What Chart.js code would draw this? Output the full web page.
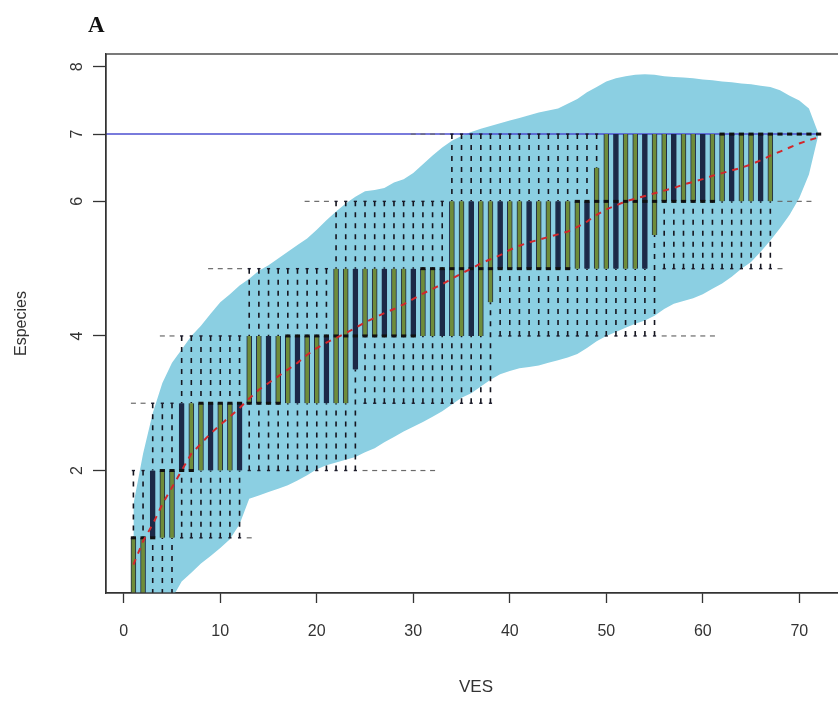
<!DOCTYPE html>
<html><head><meta charset="utf-8">
<script src="https://cdn.jsdelivr.net/npm/chart.js@4.4.0/dist/chart.umd.min.js"></script>
<style>
html,body{margin:0;padding:0;background:#fff;overflow:hidden;width:838px;height:706px;}
#wrap{position:relative;width:860px;height:706px;}
#panel{position:absolute;left:88px;top:12px;font:bold 23px "Liberation Serif",serif;color:#111;}
canvas{display:block;}
</style></head><body>
<div id="wrap"><canvas id="c" width="860" height="706"></canvas><div id="panel">A</div></div>
<script>
// ---- data ----
const sites = [1,2,3,4,5,6,7,8,9,10,11,12,13,14,15,16,17,18,19,20,21,22,23,24,
  25,26,27,28,29,30,31,32,33,34,35,36,37,38,39,40,41,42,43,44,45,46,47,48,
  49,50,51,52,53,54,55,56,57,58,59,60,61,62,63,64,65,66,67,68,69,70,71,72];
const meanRichness = [0.60,0.95,1.20,1.50,1.75,2.00,2.25,2.40,2.55,2.68,2.80,2.93,
  3.07,3.20,3.30,3.40,3.50,3.60,3.72,3.82,3.90,3.97,4.04,4.12,
  4.20,4.27,4.34,4.40,4.47,4.55,4.63,4.70,4.77,4.85,4.93,5.00,
  5.08,5.14,5.20,5.28,5.34,5.39,5.43,5.47,5.51,5.55,5.62,5.70,
  5.80,5.88,5.94,6.00,6.04,6.08,6.12,6.16,6.20,6.25,6.29,6.33,
  6.38,6.42,6.46,6.50,6.55,6.61,6.68,6.74,6.80,6.86,6.91,6.95];
const ciUpper = [1.50,2.25,2.85,3.30,3.60,3.80,4.00,4.15,4.33,4.50,4.62,4.75,
  4.85,4.97,5.05,5.15,5.25,5.35,5.45,5.58,5.72,5.85,5.97,6.07,
  6.15,6.17,6.20,6.28,6.33,6.42,6.55,6.68,6.80,6.90,6.97,7.03,
  7.08,7.12,7.16,7.20,7.24,7.28,7.32,7.35,7.38,7.45,7.52,7.62,
  7.70,7.78,7.83,7.86,7.88,7.89,7.88,7.86,7.85,7.84,7.83,7.81,
  7.80,7.78,7.77,7.75,7.74,7.72,7.70,7.65,7.57,7.50,7.38,7.00];
const ciLower = [-0.30,-0.30,-0.30,-0.20,0.10,0.35,0.48,0.62,0.73,0.85,0.98,1.20,
  1.58,1.63,1.68,1.73,1.78,1.85,1.93,2.02,2.08,2.12,2.16,2.20,
  2.27,2.33,2.42,2.50,2.58,2.65,2.72,2.80,2.88,2.98,3.08,3.15,
  3.25,3.35,3.43,3.48,3.52,3.54,3.56,3.60,3.64,3.68,3.73,3.82,
  3.92,4.00,4.06,4.12,4.18,4.23,4.30,4.40,4.48,4.52,4.56,4.62,
  4.70,4.78,4.88,5.00,5.10,5.25,5.42,5.60,5.80,6.05,6.40,7.00];
const boxQ1 = [0,0,1,1,1,2,2,2,2,2,2,2,
  3,3,3,3,3,3,3,3,3,3,3,3.5,
  4,4,4,4,4,4,4,4,4,4,4,4,
  4,4.5,5,5,5,5,5,5,5,5,5,5,
  5,5,5,5,5,5,5.5,6,6,6,6,6,
  6,6,6,6,6,6,6,7,7,7,7,7];
const boxQ3 = [1,1,2,2,2,3,3,3,3,3,3,3,
  4,4,4,4,4,4,4,4,4,5,5,5,
  5,5,5,5,5,5,5,5,5,6,6,6,
  6,6,6,6,6,6,6,6,6,6,6,6,
  6.5,7,7,7,7,7,7,7,7,7,7,7,
  7,7,7,7,7,7,7,7,7,7,7,7];
const boxMedian = [1,1,1,2,2,2,2,3,3,3,3,3,
  3,3,3,3,4,4,4,4,4,4,4,4,
  4,4,4,4,4,4,5,5,5,5,5,5,
  5,5,5,5,5,5,5,5,5,5,6,6,
  6,6,6,6,6,6,6,6,6,6,6,6,
  6,7,7,7,7,7,7,7,7,7,7,7];
const whiskerLow = [0,0,0,0,0,1,1,1,1,1,1,1,
  2,2,2,2,2,2,2,2,2,2,2,2,
  3,3,3,3,3,3,3,3,3,3,3,3,
  3,3,4,4,4,4,4,4,4,4,4,4,
  4,4,4,4,4,4,4,5,5,5,5,5,
  5,5,5,5,5,5,5,7,7,7,7,7];
const whiskerHigh = [2,2,3,3,3,4,4,4,4,4,4,4,
  5,5,5,5,5,5,5,5,5,6,6,6,
  6,6,6,6,6,6,6,6,6,7,7,7,
  7,7,7,7,7,7,7,7,7,7,7,7,
  7,7,7,7,7,7,7,7,7,7,7,7,
  7,7,7,7,7,7,7,7,7,7,7,7];
const outlierX = [1,2,4,5,9,10,11,12,13,19,20,21,25,26,27,28,29,30,31,32,30,31,32,33,56,57,58,59,60,61,68,68,69,70,71];
const outlierY = [3,3,4,4,5,5,5,5,1,6,6,6,2,2,2,2,2,2,2,2,7,7,7,7,4,4,4,4,4,4,5,6,6,6,6];
const totalSpecies = 7;
const xTicks = [0,10,20,30,40,50,60,70];
const yTicks = [2,4,6,7,8];

// ---- axis ranges ----
const X_MIN = -1.84, X_MAX = 74.84, Y_MIN = 0.18, Y_MAX = 8.19;

const series = ys => sites.map((x, i) => ({x, y: ys[i]}));
const whiskerPts = [];
const staplePts = [];
sites.forEach((x, i) => {
  if (whiskerHigh[i] > boxQ3[i]) {
    whiskerPts.push({x, y: whiskerHigh[i]}, {x, y: boxQ3[i]}, {x, y: null});
    staplePts.push({x, y: whiskerHigh[i]});
  }
  if (whiskerLow[i] < boxQ1[i]) {
    whiskerPts.push({x, y: whiskerLow[i]}, {x, y: boxQ1[i]}, {x, y: null});
    staplePts.push({x, y: whiskerLow[i]});
  }
});
const boxPts = sites.map((x, i) => ({x, y: [boxQ1[i], boxQ3[i]]}));
const outlierPts = outlierX.map((x, i) => ({x, y: outlierY[i]}));

const OLIVE = '#6f8c3a', DARK = '#1c2947';
const TXT = '#333';
const FONT = 'Liberation Sans, Arial, sans-serif';

const framePlugin = {
  id: 'frame',
  afterDraw(chart) {
    const {ctx, chartArea: a} = chart;
    ctx.save();
    ctx.strokeStyle = '#333';
    ctx.lineWidth = 1.3;
    ctx.strokeRect(a.left, a.top, a.right - a.left, a.bottom - a.top);
    ctx.restore();
  }
};

new Chart(document.getElementById('c'), {
  type: 'line',
  data: {
    datasets: [
      { type: 'line', data: series(meanRichness), borderColor: '#d3272b', borderWidth: 2,
        borderDash: [6, 6], pointRadius: 0, fill: false, order: 1, tension: 0 },
      { type: 'scatter', data: sites.map((x, i) => ({x, y: boxMedian[i]})), pointStyle: 'line',
        pointRadius: 2.6, pointBorderWidth: 3, borderColor: '#111', backgroundColor: '#111', order: 2 },
      { type: 'scatter', data: staplePts, pointStyle: 'line', pointRadius: 1.6, pointBorderWidth: 1.4,
        borderColor: '#1a1a2a', order: 3 },
      { type: 'bar', data: boxPts, barThickness: 5, grouped: false, order: 4,
        backgroundColor: c => (c.raw && c.raw.x % 3 === 0) ? DARK : OLIVE,
        borderColor: DARK, borderWidth: {left: 1, right: 1, top: 0, bottom: 0}, borderSkipped: false },
      { type: 'scatter', data: outlierPts, pointStyle: 'line', pointRadius: 2.5, pointBorderWidth: 1.2,
        borderColor: '#6a6a6a', order: 5 },
      { type: 'line', data: whiskerPts, borderColor: '#15151f', borderWidth: 1.6, borderDash: [5, 6],
        pointRadius: 0, spanGaps: false, fill: false, order: 6 },
      { type: 'line', data: [{x: X_MIN, y: totalSpecies}, {x: sites[sites.length - 1], y: totalSpecies}],
        borderColor: '#4d4fd0', borderWidth: 1.5, pointRadius: 0, fill: false, order: 7 },
      { type: 'line', data: series(ciUpper), borderWidth: 0, pointRadius: 0,
        backgroundColor: 'rgb(139,207,226)', fill: '+1', order: 8 },
      { type: 'line', data: series(ciLower), borderWidth: 0, pointRadius: 0, fill: false, order: 9 }
    ]
  },
  options: {
    responsive: false,
    animation: false,
    events: [],
    layout: { padding: { top: 54, right: 14, left: 0, bottom: 0 } },
    plugins: { legend: { display: false }, tooltip: { enabled: false } },
    scales: {
      x: {
        type: 'linear', min: X_MIN, max: X_MAX, offset: false,
        afterBuildTicks: s => { s.ticks = xTicks.map(v => ({value: v})); },
        afterFit: s => { s.height = 113; },
        grid: { display: true, offset: false, drawOnChartArea: false, drawTicks: true, tickLength: 10, tickColor: '#333', tickWidth: 1.3 },
        border: { display: true, color: '#333', width: 1.3 },
        ticks: { padding: 19, color: TXT, font: { family: FONT, size: 16 }, maxRotation: 0, autoSkip: false },
        title: { display: true, text: 'VES', color: TXT, font: { family: FONT, size: 17 }, padding: { top: 0, bottom: 8 } }
      },
      y: {
        type: 'linear', min: Y_MIN, max: Y_MAX,
        afterBuildTicks: s => { s.ticks = yTicks.map(v => ({value: v})); },
        afterFit: s => { s.width = 106; },
        grid: { display: true, drawOnChartArea: false, drawTicks: true, tickLength: 13, tickColor: '#333', tickWidth: 1.3 },
        border: { display: true, color: '#333', width: 1.3 },
        ticks: { padding: 11, minRotation: 90, maxRotation: 90, crossAlign: 'center', color: TXT,
                 font: { family: FONT, size: 16 }, autoSkip: false },
        title: { display: true, text: 'Especies', color: TXT, font: { family: FONT, size: 16 }, padding: { top: 12, bottom: 0 } }
      }
    }
  },
  plugins: [framePlugin]
});
</script></body></html>
